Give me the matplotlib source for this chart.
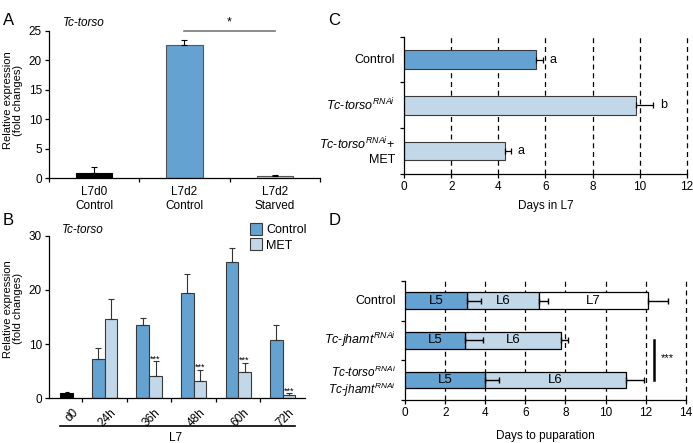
import matplotlib
matplotlib.use("Agg")
import matplotlib.pyplot as plt

plt.rcParams["font.family"] = ["Liberation Sans", "DejaVu Sans"]
plt.rcParams["mathtext.fontset"] = "custom"
plt.rcParams["mathtext.it"] = "Liberation Sans:italic"
plt.rcParams["mathtext.rm"] = "Liberation Sans"
plt.rcParams["axes.linewidth"] = 0.9
plt.rcParams["xtick.major.width"] = 0.9
plt.rcParams["ytick.major.width"] = 0.9
plt.rcParams["xtick.major.size"] = 3
plt.rcParams["ytick.major.size"] = 3

BLUE = "#64a2d2"
LIGHT = "#c2d7e8"
EDGE = "#3a3a3a"

# Panel A
a_labels = ["L7d0\nControl", "L7d2\nControl", "L7d2\nStarved"]
a_values = [0.97, 22.6, 0.4]
a_errors = [0.95, 0.9, 0.15]
a_colors = ["black", BLUE, LIGHT]

# Panel B
b_groups = ["d0", "24h", "36h", "48h", "60h", "72h"]
b_d0 = 1.0
b_d0_err = 0.15
b_control = [7.2, 13.6, 19.4, 25.1, 10.8]
b_control_err = [2.0, 1.3, 3.5, 2.7, 2.8]
b_met = [14.6, 4.1, 3.2, 4.9, 0.6]
b_met_err = [3.7, 2.7, 2.1, 1.7, 0.3]
b_met_sig = ["", "***", "***", "***", "***"]

# Panel C
c_labels = ["Control", r"$Tc$-$torso^{RNAi}$", r"$Tc$-$torso^{RNAi}$+" + "\nMET"]
c_values = [5.6, 9.85, 4.3]
c_errors = [0.28, 0.73, 0.22]
c_letters = ["a", "b", "a"]
c_colors = [BLUE, LIGHT, LIGHT]

# Panel D (labels as lists of lines)
d_labels = [["Control"], [r"$Tc$-$jhamt^{RNAi}$"],
            [r"$Tc$-$torso^{RNAi}$", r"$Tc$-$jhamt^{RNAi}$"]]
d_l5 = [3.1, 3.0, 4.0]
d_l5_err = [0.7, 0.9, 0.7]
d_l6 = [3.6, 4.8, 7.0]
d_l6_err = [0.45, 0.35, 0.9]
d_l7 = [5.4, 0.0, 0.0]
d_l7_err = [1.0, 0.0, 0.0]

fig = plt.figure(figsize=(6.93, 4.43), dpi=100)

fs = 8.5


def clean(ax):
    ax.spines["top"].set_visible(False)
    ax.spines["right"].set_visible(False)
    ax.tick_params(labelsize=fs, direction="out", pad=2)


# ---------------- A ----------------
axA = fig.add_axes([0.0707, 0.5975, 0.391, 0.3332])
clean(axA)
xa = list(range(len(a_values)))
axA.bar(xa, a_values, width=0.4, color=a_colors, edgecolor=["black", "#555555", "#555555"],
        linewidth=0.8, yerr=[[0] * 3, a_errors], capsize=2,
        error_kw=dict(elinewidth=0.8, capthick=0.8, ecolor="black"))
axA.set_xlim(-0.5, 2.5)
axA.set_ylim(0, 25)
axA.set_yticks([0, 5, 10, 15, 20, 25])
axA.set_xticks([-0.5, 0.5, 1.5, 2.5])
axA.set_xticklabels([])
for i, lab in enumerate(a_labels):
    axA.text(i, -1.3, lab, ha="center", va="top", fontsize=fs)
axA.set_ylabel("Relative expression\n(fold changes)", fontsize=8, linespacing=1.05)
axA.yaxis.set_label_coords(-0.095, 0.53)
axA.plot([1.0, 2.0], [25, 25], color="#777777", lw=1.2, clip_on=False)
axA.text(1.5, 25.3, "*", ha="center", va="bottom", fontsize=9)
axA.text(0.05, 1.01, "Tc-torso", transform=axA.transAxes, fontsize=fs, style="italic",
         ha="left", va="bottom")

# ---------------- B ----------------
axB = fig.add_axes([0.0707, 0.1009, 0.3694, 0.367])
clean(axB)
bw = 0.285
xg = [1, 2, 3, 4, 5]
axB.bar([0.15], [b_d0], width=0.3, color="black", edgecolor="black", linewidth=0.8,
        yerr=[[0], [b_d0_err]], capsize=1.5,
        error_kw=dict(elinewidth=0.8, capthick=0.8))
axB.bar([x - bw / 2 for x in xg], b_control, width=bw, color=BLUE, edgecolor=EDGE,
        linewidth=0.8, yerr=[[0] * 5, b_control_err], capsize=2.5,
        error_kw=dict(elinewidth=0.8, capthick=0.8, ecolor="#333333"), label="Control")
axB.bar([x + bw / 2 for x in xg], b_met, width=bw, color=LIGHT, edgecolor=EDGE,
        linewidth=0.8, yerr=[[0] * 5, b_met_err], capsize=2.5,
        error_kw=dict(elinewidth=0.8, capthick=0.8, ecolor="#333333"), label="MET")
for x, v, e, s in zip(xg, b_met, b_met_err, b_met_sig):
    if s:
        axB.text(x + bw / 2, v + e - 0.4, s, ha="center", va="bottom", fontsize=6.5)
axB.set_xlim(-0.25, 5.5)
axB.set_ylim(0, 30)
axB.set_yticks([0, 10, 20, 30])
axB.set_xticks([0.5, 1.5, 2.5, 3.5, 4.5])
axB.set_xticklabels([])
for x, lab in zip([0.15] + xg, b_groups):
    axB.text(x + 0.12, -1.5, lab, rotation=45, ha="right", va="top",
             rotation_mode="anchor", fontsize=fs)
axB.set_ylabel("Relative expression\n(fold changes)", fontsize=8, linespacing=1.05)
axB.yaxis.set_label_coords(-0.1, 0.55)
axB.plot([0.0, 5.27], [-5.2, -5.2], color="black", lw=1.2, clip_on=False)
axB.text(2.6, -6.2, "L7", ha="center", va="top", fontsize=fs)
axB.text(0.05, 1.0, "Tc-torso", transform=axB.transAxes, fontsize=fs, style="italic",
         ha="left", va="bottom")
axB.legend(loc="upper left", bbox_to_anchor=(0.785, 1.08), frameon=False, fontsize=9,
           handlelength=1.0, handleheight=1.1, handletextpad=0.3, labelspacing=0.2,
           borderaxespad=0, borderpad=0)

# ---------------- C ----------------
axC = fig.add_axes([0.5834, 0.6072, 0.4075, 0.31])
clean(axC)
yc = list(range(len(c_values)))
for x in [2, 4, 6, 8, 10, 12]:
    axC.axvline(x, color="black", lw=0.9, ls=(0, (4, 3)), zorder=0, clip_on=False)
axC.barh(yc, c_values, height=0.4, color=c_colors, edgecolor=EDGE, linewidth=0.8,
         xerr=[[0] * 3, c_errors], capsize=2.5,
         error_kw=dict(elinewidth=0.9, capthick=0.9), zorder=2)
for y, v, e, l in zip(yc, c_values, c_errors, c_letters):
    axC.text(v + e + 0.3, y, l, ha="left", va="center", fontsize=9)
axC.set_ylim(2.5, -0.5)
axC.set_xlim(0, 12)
axC.set_xticks([0, 2, 4, 6, 8, 10, 12])
axC.set_yticks([-0.5, 0.5, 1.5, 2.5])
axC.set_yticklabels([])
for y, lab in zip(yc, c_labels):
    axC.text(-0.4, y, lab, ha="right", va="center", fontsize=9)
axC.set_xlabel("Days in L7", fontsize=fs, labelpad=5)

# ---------------- D ----------------
axD = fig.add_axes([0.5848, 0.0971, 0.4046, 0.2686])
clean(axD)
yd = list(range(len(d_labels)))
for x in [2, 4, 6, 8, 10, 12, 14]:
    axD.axvline(x, color="black", lw=0.9, ls=(0, (4, 3)), zorder=0, clip_on=False)
h = 0.42
ek = dict(elinewidth=1.0, capthick=1.0, ecolor="black")
axD.barh(yd, d_l5, height=h, color=BLUE, edgecolor="black", linewidth=0.9,
         xerr=[[0] * 3, d_l5_err], capsize=2.5, error_kw=ek, zorder=3)
axD.barh(yd, d_l6, left=d_l5, height=h, color=LIGHT, edgecolor="black", linewidth=0.9,
         zorder=2)
l6_end = [a + b for a, b in zip(d_l5, d_l6)]
axD.errorbar(l6_end, yd, xerr=[[0] * 3, d_l6_err], fmt="none", capsize=2.5,
             elinewidth=1.0, capthick=1.0, ecolor="black", zorder=4)
axD.barh(yd[:1], d_l7[:1], left=l6_end[:1], height=h, color="white", edgecolor="black",
         linewidth=0.9, zorder=2)
l7_end = [a + b for a, b in zip(l6_end, d_l7)]
axD.errorbar(l7_end[:1], yd[:1], xerr=[[0], d_l7_err[:1]], fmt="none", capsize=2.5,
             elinewidth=1.0, capthick=1.0, ecolor="black", zorder=4)
for i in yd:
    axD.text(d_l5[i] / 2, i, "L5", ha="center", va="center", fontsize=9.5, zorder=5)
    axD.text(d_l5[i] + d_l6[i] / 2, i, "L6", ha="center", va="center", fontsize=9.5, zorder=5)
    if d_l7[i] > 0:
        axD.text(l6_end[i] + d_l7[i] / 2, i, "L7", ha="center", va="center",
                 fontsize=9.5, zorder=5)
axD.plot([12.4, 12.4], [1, 2], color="black", lw=1.8)
axD.text(12.75, 1.45, "***", ha="left", va="center", fontsize=8)
axD.set_ylim(2.5, -0.5)
axD.set_xlim(0, 14)
axD.set_xticks([0, 2, 4, 6, 8, 10, 12, 14])
axD.set_yticks([-0.5, 0.5, 1.5, 2.5])
axD.set_yticklabels([])
for y, lines in zip(yd, d_labels):
    if len(lines) == 1:
        axD.text(-0.45, y, lines[0], ha="right", va="center", fontsize=9)
    else:
        axD.text(-0.45, y - 0.2, lines[0], ha="right", va="center", fontsize=8.5)
        axD.text(-0.45, y + 0.24, lines[1], ha="right", va="center", fontsize=8.5)
axD.set_xlabel("Days to puparation", fontsize=fs, labelpad=8)

# panel letters
for lab, x, y in [("A", 0.004, 0.97), ("B", 0.004, 0.52), ("C", 0.474, 0.97),
                  ("D", 0.474, 0.52)]:
    fig.text(x, y, lab, fontsize=12, ha="left", va="top")

fig.savefig("out.png", dpi=100)
